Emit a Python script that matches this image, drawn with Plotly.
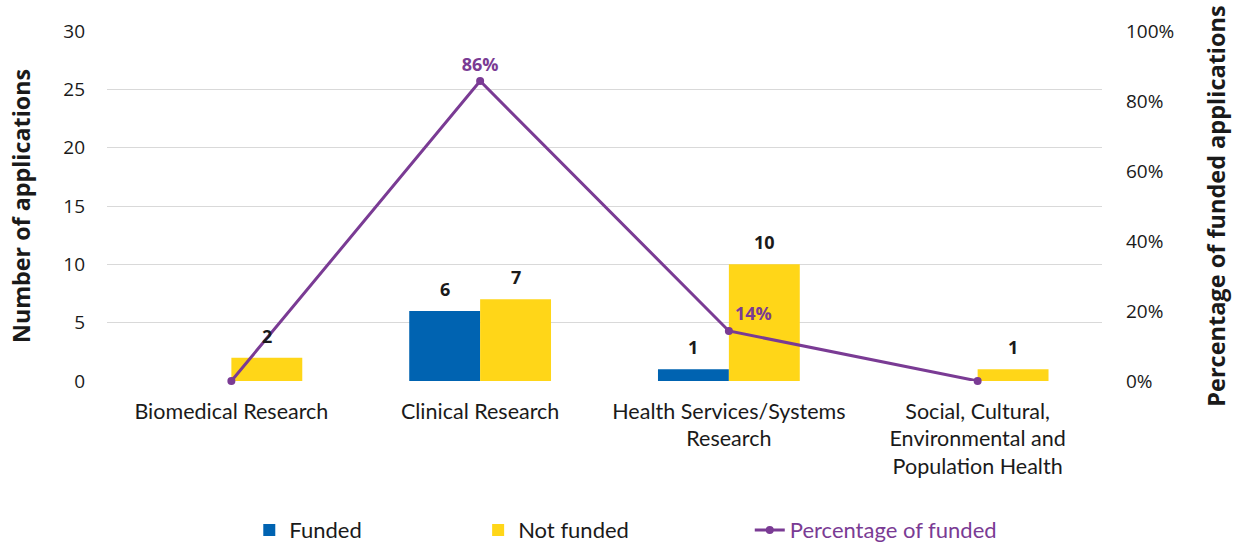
import plotly.graph_objects as go

categories = ["Biomedical Research", "Clinical Research",
              "Health Services/Systems<br>Research",
              "Social, Cultural,<br>Environmental and<br>Population Health"]
funded = [0, 6, 1, 0]
not_funded = [2, 7, 10, 1]
pct_funded = [0.0, 0.857, 0.143, 0.0]
funded_labels = ["", "6", "1", ""]
not_funded_labels = ["2", "7", "10", "1"]
pct_labels = ["", "86%", "14%", ""]
pct_positions = ["top center", "top center", "top right", "top center"]

BLUE = "#0063B1"
YELLOW = "#FFD618"
PURPLE = "#7A3B94"
TXT = "#1a1a1a"
NUM_FONT = "Open Sans"
CAT_FONT = "Lato"

fig = go.Figure()
fig.add_trace(go.Bar(
    x=categories, y=funded, name="Funded", marker=dict(color=BLUE, line_width=0),
    legend="legend"))
fig.add_trace(go.Bar(
    x=categories, y=not_funded, name="Not funded", marker=dict(color=YELLOW, line_width=0),
    legend="legend2"))
fig.add_trace(go.Scatter(
    x=categories, y=pct_funded,
    name='<span style="color:%s">Percentage of funded</span>' % PURPLE,
    yaxis="y2", mode="lines+markers+text",
    line=dict(color=PURPLE, width=3), marker=dict(color=PURPLE, size=8),
    text=pct_labels, textposition=pct_positions, cliponaxis=False,
    textfont=dict(family=NUM_FONT, size=18, color=PURPLE, weight="bold"),
    legend="legend3"))

# value labels above the bars
half = 35.5
for cat, v, lab in zip(categories, funded, funded_labels):
    if lab:
        fig.add_annotation(x=cat, y=v, text="<b>%s</b>" % lab, showarrow=False,
                           xshift=-half, yshift=8, yanchor="bottom",
                           font=dict(family=NUM_FONT, size=18, color=TXT))
for cat, v, lab in zip(categories, not_funded, not_funded_labels):
    if lab:
        fig.add_annotation(x=cat, y=v, text="<b>%s</b>" % lab, showarrow=False,
                           xshift=half, yshift=8, yanchor="bottom",
                           font=dict(family=NUM_FONT, size=18, color=TXT))

legend_common = dict(orientation="h", yanchor="middle", y=-0.426, xanchor="left",
                     font=dict(family=CAT_FONT, size=22, color=TXT),
                     bgcolor="rgba(0,0,0,0)", itemwidth=30)

fig.update_layout(
    width=1242, height=544,
    margin=dict(l=107, r=140, t=31, b=163, autoexpand=False),
    paper_bgcolor="white", plot_bgcolor="white",
    barmode="group", bargap=0.43, bargroupgap=0,
    showlegend=True,
    legend=dict(legend_common, x=0.143),
    legend2=dict(legend_common, x=0.373),
    legend3=dict(legend_common, x=0.646),
    xaxis=dict(
        automargin=False,
        showgrid=False, showline=False, ticks="", ticklabelstandoff=15,
        tickfont=dict(family=CAT_FONT, size=21.5, color=TXT),
    ),
    yaxis=dict(
        automargin=False,
        range=[0, 30], dtick=5, showgrid=True, gridcolor="#D9D9D9", gridwidth=1,
        zeroline=False, showline=False, ticklabelstandoff=21,
        tickfont=dict(family=NUM_FONT, size=19, color=TXT),
        title=dict(text="<b>Number of applications</b>", standoff=26,
                   font=dict(family=NUM_FONT, size=23.3, color=TXT)),
    ),
    yaxis2=dict(
        automargin=False,
        range=[0, 1], dtick=0.2, tickformat=".0%", overlaying="y", side="right",
        showgrid=False, zeroline=False, showline=False, ticklabelstandoff=23,
        tickfont=dict(family=NUM_FONT, size=19, color=TXT),
        title=dict(text="<b>Percentage of funded applications</b>", standoff=35,
                   font=dict(family=NUM_FONT, size=23.5, color=TXT)),
    ),
)

fig.write_html("out.html", config={"displayModeBar": False},
               post_script="document.body.style.margin='0';document.body.style.padding='0';")
